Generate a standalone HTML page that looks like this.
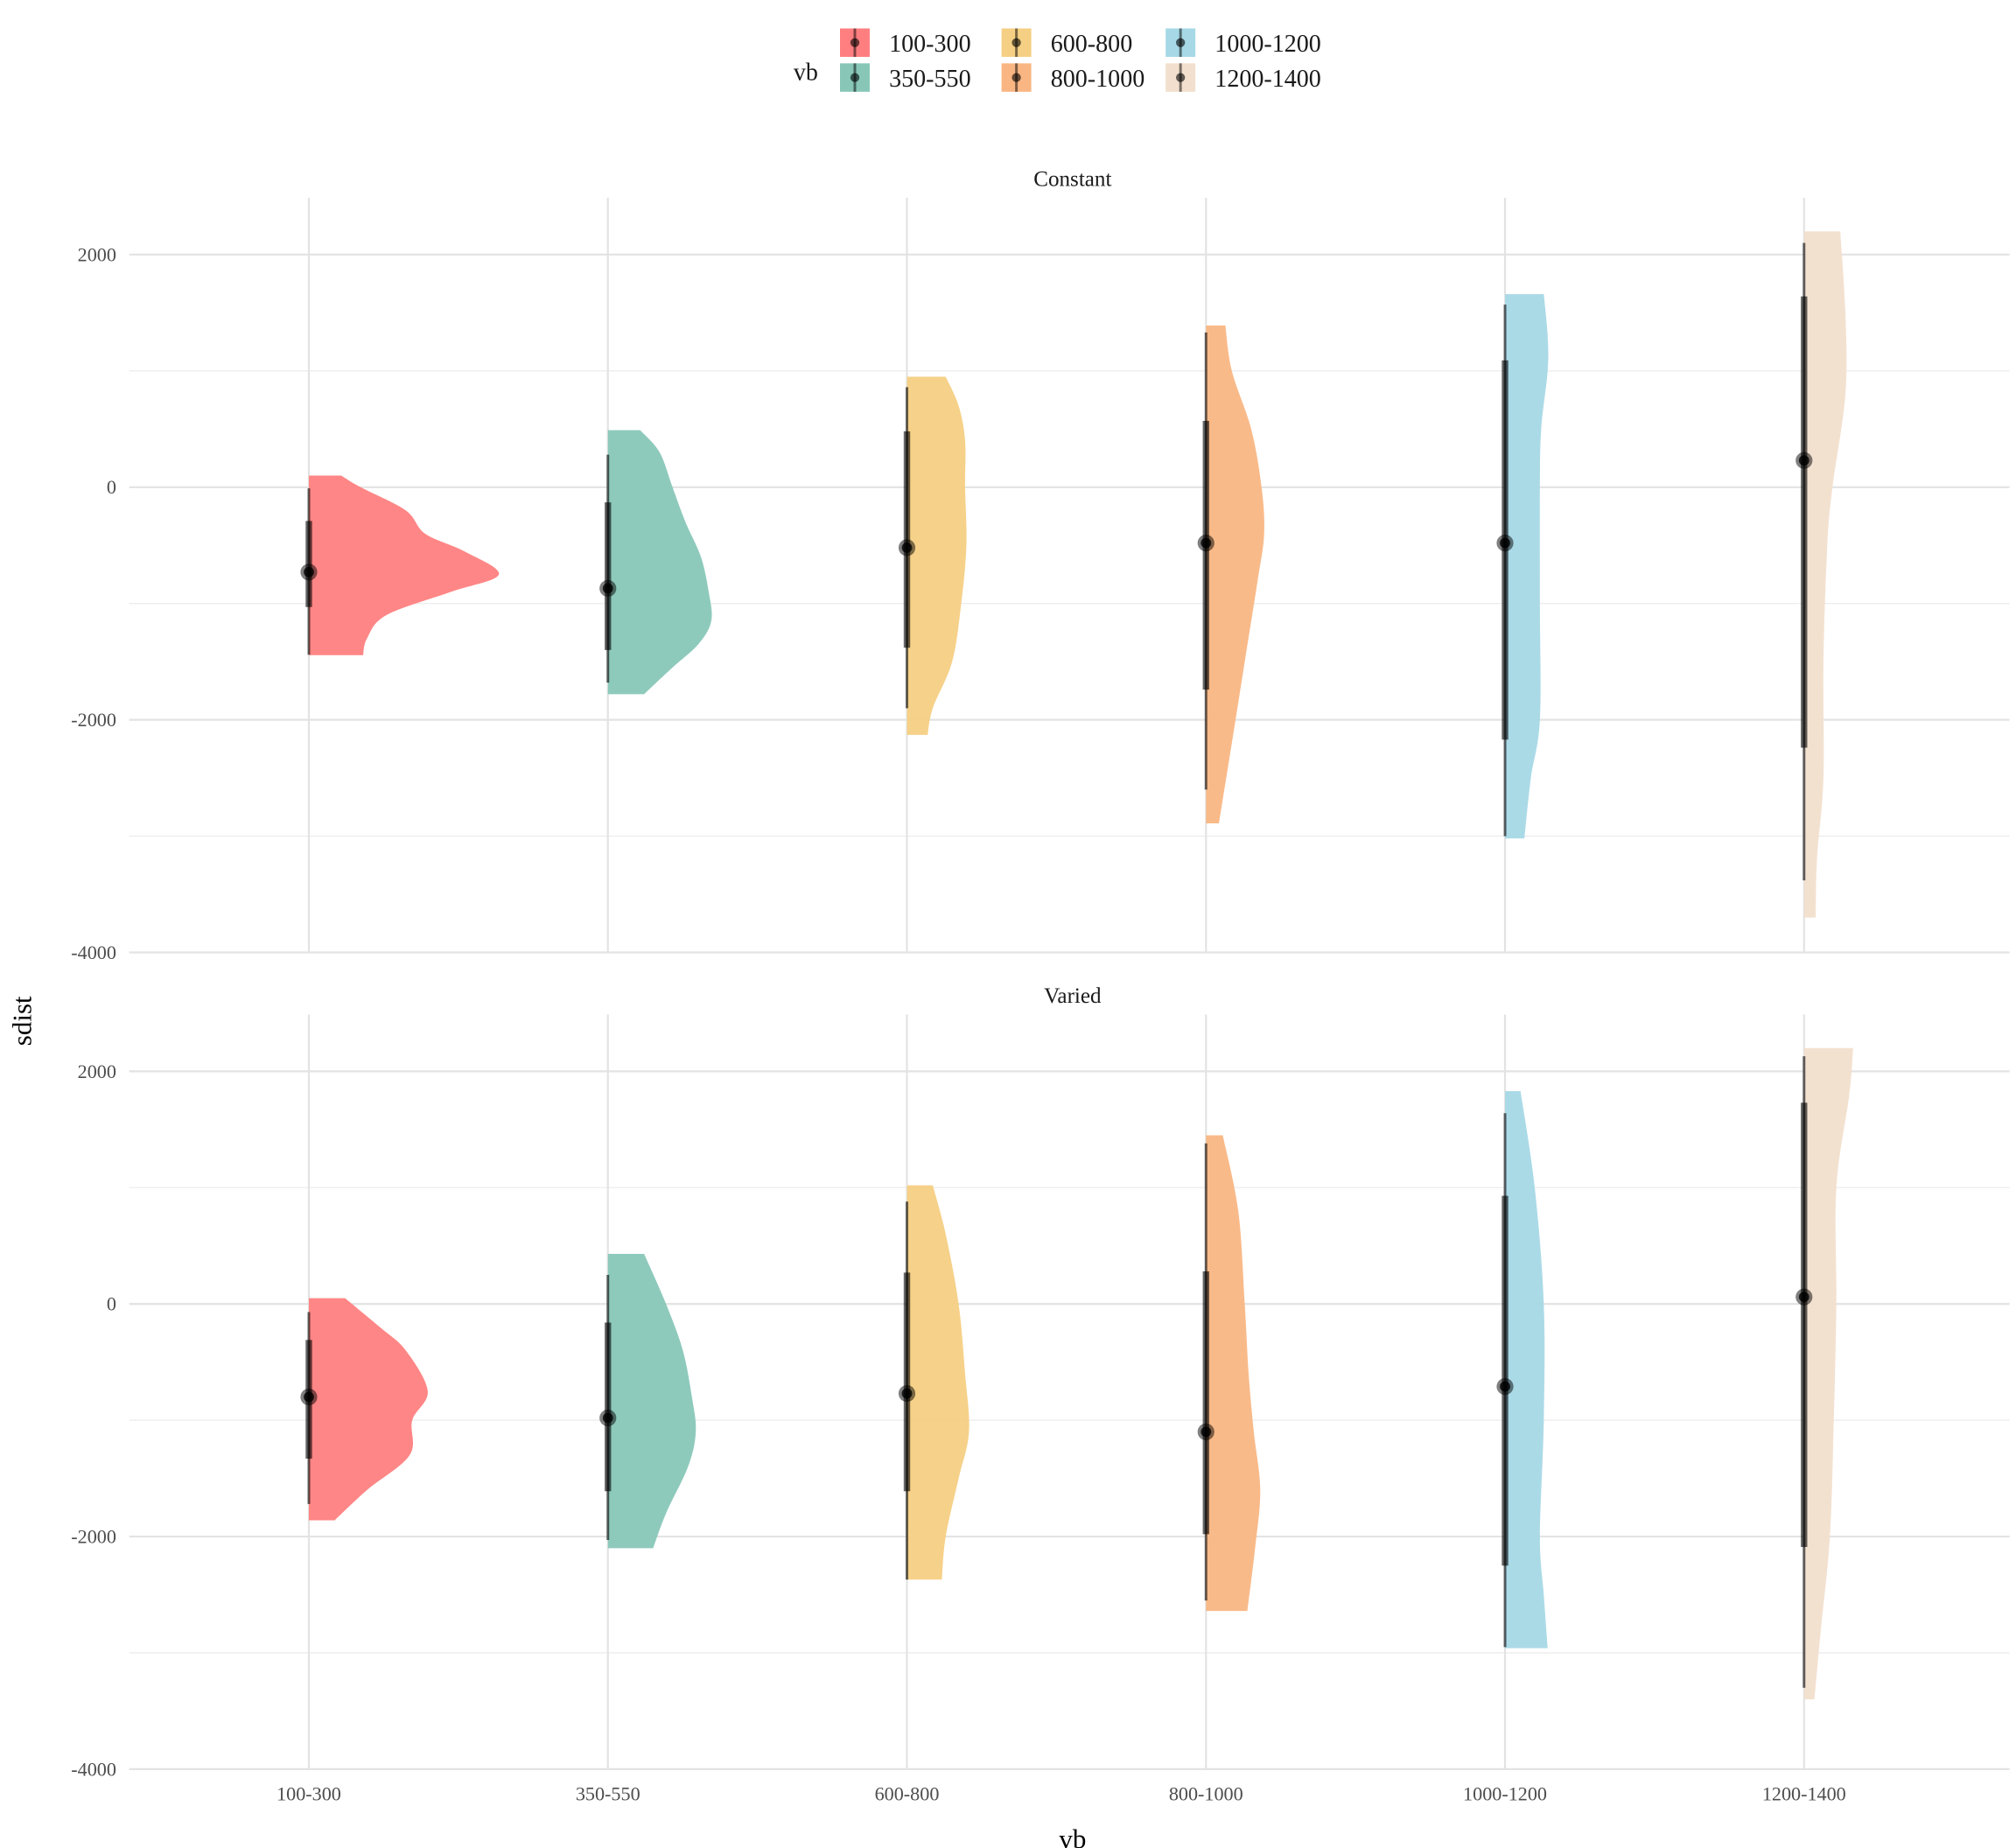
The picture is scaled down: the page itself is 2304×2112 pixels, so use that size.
<!DOCTYPE html>
<html><head><meta charset="utf-8"><style>
html,body{margin:0;padding:0;background:#fff;}
svg{display:block;font-family:"Liberation Serif",serif;}
</style></head><body>
<svg id="chart" width="2304" height="2112" viewBox="0 0 1560 1430" xmlns="http://www.w3.org/2000/svg">
<g id="legend"></g>
<g id="panels"></g>
<text x="830" y="1430" font-size="21" text-anchor="middle">vb</text>
<text transform="translate(24,790) rotate(-90)" font-size="21" text-anchor="middle">sdist</text>
</svg>
<script>
const categories = ["100-300","350-550","600-800","800-1000","1000-1200","1200-1400"];
const colors = ["#FF7F80","#88C7B8","#F5CF83","#F9B683","#A6D8E6","#F2DFCD"];
const panelNames = ["Constant","Varied"];
const yTicks = [2000,0,-2000,-4000];
const yMinor = [1000,-1000,-3000];
// density profiles: [value, density width]
const constantProfiles = [
 [[100,25],[0,40],[-200,75],[-400,90],[-550,120],[-750,147],[-900,110],[-1100,60],[-1300,45],[-1444,42]],
 [[490,25],[300,40],[0,50],[-300,60],[-600,72],[-900,78],[-1150,80],[-1350,70],[-1550,50],[-1780,28]],
 [[950,30],[700,40],[400,45],[0,45],[-500,46],[-1000,42],[-1500,35],[-1900,20],[-2130,16]],
 [[1390,15],[1000,20],[500,35],[0,43],[-400,45],[-800,40],[-1500,30],[-2200,20],[-2890,10]],
 [[1660,30],[1300,33],[1000,33],[500,28],[0,27],[-1000,27],[-2000,27],[-2500,20],[-3020,15]],
 [[2200,28],[1500,32],[800,32],[0,22],[-500,18],[-1500,15],[-2500,15],[-3200,10],[-3700,9]]
];
const variedProfiles = [
 [[50,28],[-200,55],[-400,75],[-750,92],[-1000,80],[-1300,78],[-1600,45],[-1860,20]],
 [[430,28],[0,45],[-400,58],[-800,65],[-1100,68],[-1400,62],[-1800,45],[-2100,35]],
 [[1020,20],[600,30],[0,40],[-600,45],[-1100,48],[-1500,40],[-2000,30],[-2370,27]],
 [[1450,13],[800,25],[0,30],[-600,33],[-1100,37],[-1600,42],[-2100,38],[-2640,32]],
 [[1830,12],[1000,23],[0,30],[-1000,30],[-2000,27],[-2500,30],[-2960,33]],
 [[2200,38],[1800,35],[1000,25],[0,25],[-1000,23],[-2000,20],[-2800,13],[-3400,8]]
];
// [whiskerHigh, whiskerLow, boxHigh, boxLow, median]
const constantStats = [
 [-10,-1440,-290,-1030,-730],[280,-1680,-130,-1400,-870],[860,-1900,480,-1380,-520],
 [1330,-2600,570,-1740,-480],[1570,-3000,1090,-2170,-480],[2100,-3380,1640,-2240,230]
];
const variedStats = [
 [-70,-1720,-310,-1330,-800],[250,-2030,-160,-1610,-980],[880,-2370,270,-1610,-770],
 [1380,-2550,280,-1980,-1100],[1640,-2950,930,-2250,-710],[2130,-3300,1730,-2090,60]
];
const NS="http://www.w3.org/2000/svg";
function mk(tag,attrs,parent){const e=document.createElementNS(NS,tag);for(const k in attrs)e.setAttribute(k,attrs[k]);parent.appendChild(e);return e;}
const xLeft=100,xRight=1555;
function xScale(i){return 239+i*231.4;}
const panelsGeo=[{top:153,zero:377},{top:785,zero:1009}];
function yScaleFor(p){return v=>panelsGeo[p].zero - v*0.09;}
function smoothPath(pts){
  let d='';
  for(let i=0;i<pts.length-1;i++){
    const p0=pts[Math.max(0,i-1)],p1=pts[i],p2=pts[i+1],p3=pts[Math.min(pts.length-1,i+2)];
    const c1=[p1[0]+(p2[0]-p0[0])/6,p1[1]+(p2[1]-p0[1])/6];
    const c2=[p2[0]-(p3[0]-p1[0])/6,p2[1]-(p3[1]-p1[1])/6];
    d+=' C'+c1[0]+','+c1[1]+' '+c2[0]+','+c2[1]+' '+p2[0]+','+p2[1];
  }
  return d;
}
const panelsG=document.getElementById('panels');
[constantProfiles,variedProfiles].forEach((profiles,p)=>{
  const stats=p===0?constantStats:variedStats;
  const y=yScaleFor(p);
  const g=mk('g',{},panelsG);
  
  
  const st=mk('text',{x:830,y:panelsGeo[p].top-9,'font-size':17,'text-anchor':'middle',fill:'#1a1a1a'},g);
  st.textContent=panelNames[p];
  
  
  const bottom=y(-4000);
  yMinor.forEach(t=>{const l=mk('line',{x1:xLeft,x2:xRight,y1:y(t),y2:y(t),stroke:'#ebebeb','stroke-width':0.8},g);
    });
  yTicks.forEach(t=>{const l=mk('line',{x1:xLeft,x2:xRight,y1:y(t),y2:y(t),stroke:'#e3e3e3','stroke-width':1.5},g);
    
    const tx=mk('text',{x:90,y:y(t)+5,'font-size':15,'text-anchor':'end',fill:'#4d4d4d'},g);
    tx.textContent=t;
    });
  categories.forEach((c,i)=>{const l=mk('line',{x1:xScale(i),x2:xScale(i),y1:panelsGeo[p].top,y2:bottom,stroke:'#e3e3e3','stroke-width':1.5},g);
    });
  profiles.forEach((prof,i)=>{
    const x0=xScale(i);
    const pts=prof.map(pt=>[x0+pt[1],y(pt[0])]);
    let d='M'+x0+','+pts[0][1]+' L'+pts[0][0]+','+pts[0][1];
    d+=smoothPath(pts);
    d+=' L'+x0+','+pts[pts.length-1][1]+' Z';
    const path=mk('path',{d:d,fill:colors[i],'fill-opacity':0.95},g);
    
    
    const s=stats[i];
    const w=mk('line',{x1:x0,x2:x0,y1:y(s[0]),y2:y(s[1]),stroke:'#000','stroke-opacity':0.6,'stroke-width':2},g);
    
    const b=mk('line',{x1:x0,x2:x0,y1:y(s[2]),y2:y(s[3]),stroke:'#000','stroke-opacity':0.6,'stroke-width':5},g);
    
    const h=mk('circle',{cx:x0,cy:y(s[4]),r:6.5,fill:'#000','fill-opacity':0.5},g);
    
    const m=mk('circle',{cx:x0,cy:y(s[4]),r:4,fill:'#000','fill-opacity':0.8},g);
    
  });
});
categories.forEach((c,i)=>{const t=mk('text',{x:xScale(i),y:1393,'font-size':15,'text-anchor':'middle',fill:'#4d4d4d'},panelsG);
  t.textContent=c;});
// legend
const lg=document.getElementById('legend');
const lt=mk('text',{x:614,y:62,'font-size':19,fill:'#1a1a1a'},lg);
lt.textContent='vb';
const colX=[[650,688],[775,813],[902,940]];
categories.forEach((c,i)=>{
  const col=Math.floor(i/2),row=i%2;
  const kx=colX[col][0],ky=22+row*27;
  const g=mk('g',{},lg);
  
  mk('rect',{x:kx,y:ky,width:23,height:22,fill:colors[i]},g);
  mk('line',{x1:kx+11.5,x2:kx+11.5,y1:ky,y2:ky+22,stroke:'#000','stroke-opacity':0.5,'stroke-width':2},g);
  mk('circle',{cx:kx+11.5,cy:ky+11,r:3.5,fill:'#000','fill-opacity':0.6},g);
  const t=mk('text',{x:colX[col][1],y:ky+18,'font-size':19,fill:'#1a1a1a'},g);
  t.textContent=c;
});
</script>
</body></html>
